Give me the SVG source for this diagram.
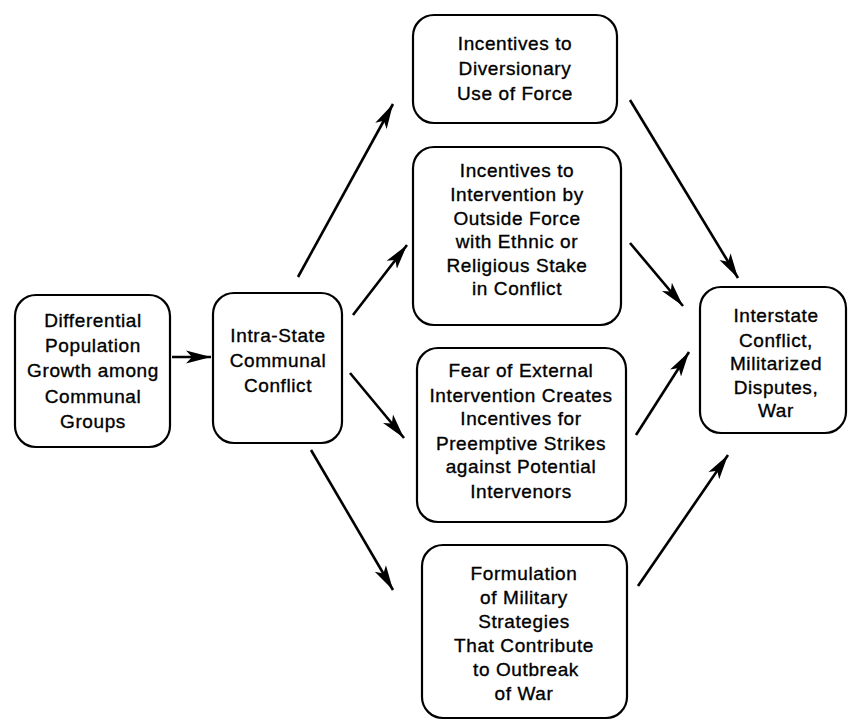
<svg xmlns="http://www.w3.org/2000/svg" width="848" height="722" viewBox="0 0 848 722">
<style>
.box{fill:#fff;stroke:#000;stroke-width:2.2}
.t{font-family:"Liberation Sans",Arial,sans-serif;font-size:19px;letter-spacing:0.6px;fill:#000;stroke:#000;stroke-width:0.35;text-anchor:middle}
.c{stroke:#000;stroke-width:2.6;fill:none;marker-end:url(#ah)}
</style>
<defs>
<marker id="ah" markerUnits="userSpaceOnUse" markerWidth="26" markerHeight="16" viewBox="0 0 26 16" refX="25" refY="8" orient="auto">
<path d="M0,1.5 L25,8 L0,14.5 L6,8 z" fill="#000"/>
</marker>
</defs>
<rect width="848" height="722" fill="#fff"/>
<g id="connectors">
<line class="c" x1="172" y1="357" x2="211" y2="357"/>
<line class="c" x1="298" y1="277" x2="393" y2="104"/>
<line class="c" x1="353" y1="315" x2="407" y2="245"/>
<line class="c" x1="350" y1="373" x2="404" y2="438"/>
<line class="c" x1="311" y1="450" x2="393" y2="590"/>
<line class="c" x1="630" y1="100" x2="738" y2="278"/>
<line class="c" x1="630" y1="243" x2="683" y2="306"/>
<line class="c" x1="636" y1="435" x2="689" y2="352"/>
<line class="c" x1="638" y1="586" x2="728" y2="455"/>
</g>
<g id="n1">
<rect class="box" x="15" y="295" width="155" height="152" rx="21"/>
<text class="t" x="93" y="327">Differential</text>
<text class="t" x="93" y="352">Population</text>
<text class="t" x="93" y="377">Growth among</text>
<text class="t" x="93" y="403">Communal</text>
<text class="t" x="93" y="428">Groups</text>
</g>
<g id="n2">
<rect class="box" x="213" y="293" width="129" height="150" rx="21"/>
<text class="t" x="278" y="342">Intra-State</text>
<text class="t" x="278" y="367">Communal</text>
<text class="t" x="278" y="392">Conflict</text>
</g>
<g id="n3">
<rect class="box" x="413" y="15" width="204" height="108" rx="21"/>
<text class="t" x="515" y="50">Incentives to</text>
<text class="t" x="515" y="75">Diversionary</text>
<text class="t" x="515" y="100">Use of Force</text>
</g>
<g id="n4">
<rect class="box" x="413" y="147" width="208" height="178" rx="21"/>
<text class="t" x="517" y="177">Incentives to</text>
<text class="t" x="517" y="201">Intervention by</text>
<text class="t" x="517" y="225">Outside Force</text>
<text class="t" x="517" y="248">with Ethnic or</text>
<text class="t" x="517" y="272">Religious Stake</text>
<text class="t" x="517" y="295">in Conflict</text>
</g>
<g id="n5">
<rect class="box" x="417" y="348" width="209" height="174" rx="21"/>
<text class="t" x="521" y="377">Fear of External</text>
<text class="t" x="521" y="402">Intervention Creates</text>
<text class="t" x="521" y="425">Incentives for</text>
<text class="t" x="521" y="450">Preemptive Strikes</text>
<text class="t" x="521" y="473">against Potential</text>
<text class="t" x="521" y="498">Intervenors</text>
</g>
<g id="n6">
<rect class="box" x="422" y="545" width="205" height="173" rx="21"/>
<text class="t" x="524" y="580">Formulation</text>
<text class="t" x="524" y="604">of Military</text>
<text class="t" x="524" y="628">Strategies</text>
<text class="t" x="524" y="652">That Contribute</text>
<text class="t" x="526" y="676">to Outbreak</text>
<text class="t" x="524" y="700">of War</text>
</g>
<g id="n7">
<rect class="box" x="700" y="287" width="146" height="146" rx="21"/>
<text class="t" x="776" y="322">Interstate</text>
<text class="t" x="776" y="347">Conflict,</text>
<text class="t" x="776" y="370">Militarized</text>
<text class="t" x="776" y="394">Disputes,</text>
<text class="t" x="776" y="417">War</text>
</g>
</svg>
